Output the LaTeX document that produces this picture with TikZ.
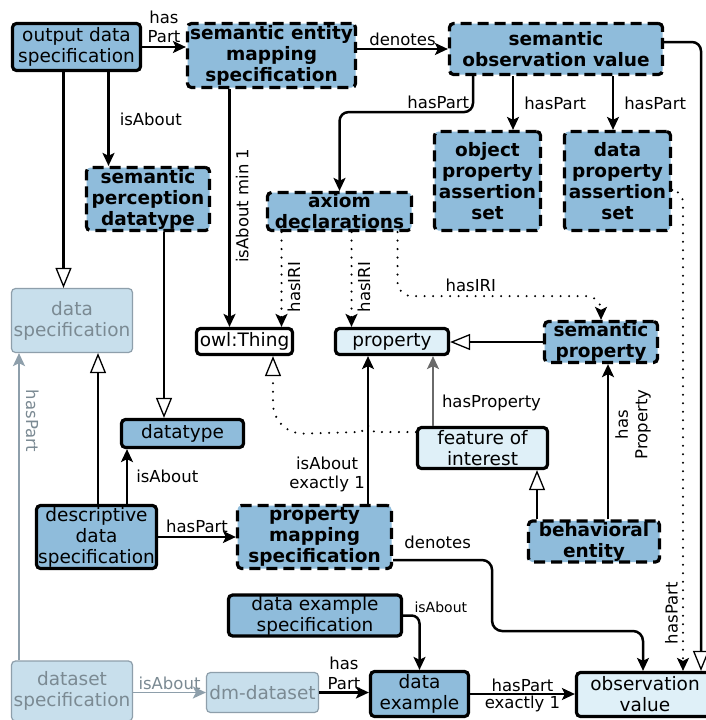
\documentclass[tikz,border=0pt]{standalone}
\usepackage{fontspec}
\setmainfont{DejaVu Sans}
\usetikzlibrary{arrows.meta,calc}
\definecolor{midblue}{HTML}{8FBCDB}
\definecolor{paleblue}{HTML}{DFF0F8}
\definecolor{fadeblue}{HTML}{C8DFEC}
\definecolor{fadeline}{HTML}{8E9FAB}
\definecolor{fadetext}{HTML}{7B8A93}
\definecolor{wire}{HTML}{6A6A6A}
\newcommand{\boxfont}{\fontsize{18.5}{21}\selectfont}
\newcommand{\edgefont}{\fontsize{16.5}{19.5}\selectfont}
\newcommand{\notefont}{\fontsize{14}{17}\selectfont}

\begin{document}
\begin{tikzpicture}[x=1pt, y=-1pt, font=\edgefont, >={Stealth[length=13pt,width=12pt,inset=3pt]},
  k/.style={draw=black, line width=3.2pt, rounded corners=4pt, fill=midblue, align=center, inner sep=1pt, font=\boxfont},
  kd/.style={k, dash pattern=on 11pt off 6pt, font=\boxfont\bfseries},
  kl/.style={k, fill=paleblue},
  kf/.style={k, draw=fadeline, line width=1.2pt, fill=fadeblue, text=fadetext},
  rel/.style={->, line width=2.5pt},
  isa/.style={-{Triangle[length=20pt,width=16pt,line width=1.3pt,fill=white]}, line width=2.5pt},
  dot/.style={line width=2.3pt, line cap=round, dash pattern=on 0pt off 8.5pt},
  gry/.style={->, draw=wire, line width=2pt},
  fad/.style={->, draw=fadeline, line width=1.8pt}]
\path[use as bounding box, fill=white] (0,0) rectangle (706,720);
\clip (0,0) rectangle (706,720);
\node[k, minimum width=128pt, minimum height=47pt] (ods) at (76.5,47) {output data\\specification};
\node[kd, minimum width=168pt, minimum height=64pt] (sem) at (271.5,55.5) {semantic entity\\mapping\\specification};
\node[kd, minimum width=213pt, minimum height=51pt] (sov) at (556,49) {semantic\\observation value};
\node[kd, minimum width=106pt, minimum height=99pt] (opa) at (487.5,181) {object\\property\\assertion\\set};
\node[kd, minimum width=106pt, minimum height=99pt] (dpa) at (617.5,181) {data\\property\\assertion\\set};
\node[kd, minimum width=123pt, minimum height=63pt] (spd) at (148,199) {semantic\\perception\\datatype};
\node[kd, minimum width=144pt, minimum height=38pt] (axd) at (339.5,211.5) {axiom\\declarations};
\node[kf, minimum width=121pt, minimum height=64pt] (dsp) at (72,320.5) {data\\specification};
\node[k, fill=white, minimum width=96pt, minimum height=26pt] (owl) at (244.5,341.5) {owl:Thing};
\node[kl, minimum width=113pt, minimum height=26pt] (prp) at (392,341.5) {property};
\node[kd, minimum width=113pt, minimum height=41pt] (spr) at (601,342) {semantic\\property};
\node[k, minimum width=122pt, minimum height=28pt] (dty) at (182.5,433.5) {datatype};
\node[kl, minimum width=130pt, minimum height=41pt] (foi) at (482.5,448) {feature of\\interest};
\node[k, minimum width=120pt, minimum height=63pt] (dds) at (96.5,537) {descriptive\\data\\specification};
\node[kd, minimum width=154pt, minimum height=63pt] (pms) at (314.5,537) {property\\mapping\\specification};
\node[kd, minimum width=131pt, minimum height=40pt] (ben) at (594,541.5) {behavioral\\entity};
\node[k, minimum width=173pt, minimum height=40pt] (des) at (315,615.5) {data example\\specification};
\node[kf, minimum width=121pt, minimum height=60pt] (dss) at (72,691) {dataset\\specification};
\node[kf, minimum width=112pt, minimum height=40pt] (dmd) at (262.5,692.5) {dm-dataset};
\node[k, minimum width=98pt, minimum height=45pt] (dex) at (419.5,694) {data\\example};
\node[kl, minimum width=137pt, minimum height=44pt] (obv) at (645,694.5) {observation\\value};
\coordinate (hop) at ($(pms.north)+(53.5,0)$);

\draw[rel] (ods) -- (ods -| sem.west) node[midway, above, align=center, inner sep=3pt] {has\\Part};
\draw[rel] ($(ods.south)+(32,0)$) -- ($(ods.south |- spd.north)+(32,0)$) node[midway, right, inner sep=10pt] {isAbout};
\draw[isa] ($(ods.south)+(-13,0)$) -- ($(ods.south |- dsp.north)+(-13,0)$);
\draw[rel] ($(sem.south)+(-42,0)$) -- ($(sem.south |- owl.north)+(-42,0)$) node[pos=0.49, rotate=90, anchor=north, inner sep=5pt] {isAbout min 1};
\draw[rel] (sem.east |- sov.west) -- (sov.west) node[midway, above, inner sep=2pt] {denotes};
\draw[rel, rounded corners=9pt] ($(sov.south)+(-83,0)$) -- ++(0,36) -| node[pos=0.13, above, inner sep=2pt] {hasPart} (axd.north);
\draw[rel] ($(sov.south)+(-43,0)$) -- ($(sov.south |- opa.north)+(-43,0)$) node[midway, right, inner sep=10pt] {hasPart};
\draw[rel] ($(sov.south)+(57,0)$) -- ($(sov.south |- dpa.north)+(57,0)$) node[midway, right, inner sep=10pt] {hasPart};
\draw[isa, rounded corners=9pt] ([yshift=7pt]sov.east) -| ($(obv.north)+(56,0)$);
\draw[rel, dot, rounded corners=12pt] ([yshift=-9pt]dpa.east) -| node[pos=0.94, rotate=90, anchor=south, inner sep=4pt] {hasPart} ($(obv.north)+(38,0)$);
\draw[rel, dot] ($(axd.south)+(-58,0)$) -- ($(axd.south |- owl.north)+(-58,0)$) node[pos=0.58, rotate=90, anchor=north, inner sep=5pt] {hasIRI};
\draw[rel, dot] ($(axd.south)+(12,0)$) -- ($(axd.south |- prp.north)+(12,0)$) node[pos=0.58, rotate=90, anchor=north, inner sep=5pt] {hasIRI};
\draw[rel, dot, rounded corners=14pt] ($(axd.south)+(58,0)$) -- ++(0,64) -| node[pos=0.18, above, inner sep=3pt] {hasIRI} (spr.north);
\draw[isa] (spr.west) -- (spr.west -| prp.east);
\draw[isa, dot] ([yshift=16pt]foi.west) -- ($(foi.west -| hop)+(6,-16)$) arc[start angle=0, end angle=180, radius=6pt] -- ($(owl.south)+(58.5,77.5)$) arc[start angle=270, end angle=180, radius=30pt] -- ($(owl.south)+(28.5,0)$);
\draw[rel] (hop) -- (hop |- prp.south) node[pos=0.2, left, align=center, inner sep=2pt] {isAbout\\exactly 1};
\draw[gry] ($(foi.north)+(-49.5,0)$) -- ($(foi.north |- prp.south)+(-49.5,0)$) node[pos=0.33, right, inner sep=8pt] {hasProperty};
\draw[isa] ($(ben.north)+(-57,0)$) -- ($(ben.north |- foi.south)+(-57,0)$);
\draw[rel] ($(ben.north)+(14,0)$) -- ($(ben.north |- spr.south)+(14,0)$) node[pos=0.61, rotate=90, anchor=north, align=center, inner sep=6pt] {has\\Property};
\draw[isa] ($(dds.north)+(1.5,0)$) -- ($(dds.north |- dsp.south)+(1.5,0)$);
\draw[rel] ($(dds.north)+(30.5,0)$) -- ($(dds.north |- dty.south)+(30.5,0)$) node[midway, right, inner sep=8pt] {isAbout};
\draw[isa] ($(spd.south)+(16,0)$) -- ($(spd.south |- dty.north)+(16,0)$);
\draw[rel] (dds.east) -- (pms.west) node[midway, above, inner sep=3pt] {hasPart};
\draw[rel, rounded corners=10pt] ([yshift=-23pt]pms.east) -- ++(99,0) node[pos=0.45, above, inner sep=3pt, yshift=7pt] {denotes} -- ++(0,71) -| ($(obv.north)+(-2,0)$);
\draw[rel, rounded corners=8pt] (des.east) -| node[pos=0.25, above right, font=\notefont, inner sep=2pt] {isAbout} (dex.north);
\draw[rel] (dex.east) -- (dex.east -| obv.west) node[midway, above, inner sep=1pt] {hasPart} node[midway, below, inner sep=1pt] {exactly 1};
\draw[rel] (dmd.east) -- (dmd.east -| dex.west) node[midway, above, align=center, inner sep=2pt] {has\\Part};
\draw[fad] (dss.east |- dmd.west) -- (dmd.west) node[midway, above, inner sep=2pt, text=fadetext] {isAbout};
\draw[fad] ($(dss.north)+(-53,0)$) -- ($(dss.north |- dsp.south)+(-53,0)$) node[pos=0.78, rotate=-90, anchor=south, inner sep=6pt, text=fadetext] {hasPart};
\end{tikzpicture}
\end{document}
